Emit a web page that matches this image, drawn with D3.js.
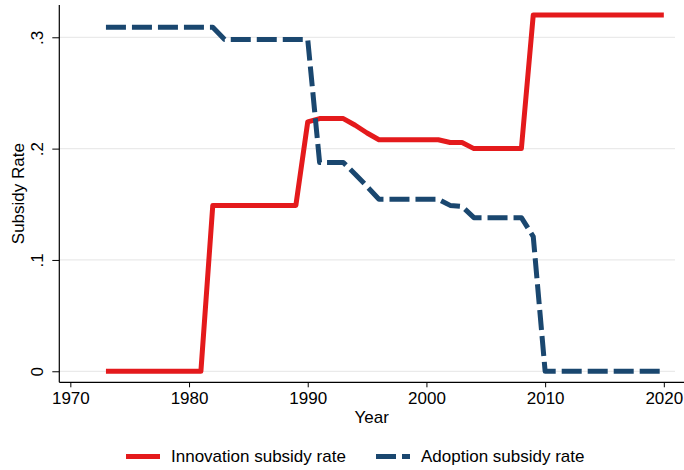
<!DOCTYPE html>
<html>
<head>
<meta charset="utf-8">
<script src="https://cdn.jsdelivr.net/npm/d3@7"></script>
<style>
  html, body { margin: 0; padding: 0; background: #fff; }
  svg { display: block; font-family: "Liberation Sans", Arial, sans-serif; }
</style>
</head>
<body>
<div id="chart"></div>
<script>
// Years 1973–2020
const years = d3.range(1973, 2021);

// Innovation subsidy rate
const innovation = [
  0, 0, 0, 0, 0, 0, 0, 0, 0,                         // 1973–1981
  0.149, 0.149, 0.149, 0.149, 0.149, 0.149, 0.149, 0.149, // 1982–1989
  0.224,                                             // 1990
  0.227, 0.227, 0.227,                               // 1991–1993
  0.221, 0.214,                                      // 1994–1995
  0.208, 0.208, 0.208, 0.208, 0.208, 0.208,          // 1996–2001
  0.2055, 0.2055,                                    // 2002–2003
  0.2, 0.2, 0.2, 0.2, 0.2,                           // 2004–2008
  0.32, 0.32, 0.32, 0.32, 0.32, 0.32, 0.32, 0.32, 0.32, 0.32, 0.32, 0.32 // 2009–2020
];

// Adoption subsidy rate
const adoption = [
  0.309, 0.309, 0.309, 0.309, 0.309, 0.309, 0.309, 0.309, 0.309, 0.309, // 1973–1982
  0.298, 0.298, 0.298, 0.298, 0.298, 0.298, 0.298, 0.298,               // 1983–1990
  0.1875, 0.1875, 0.1875,                            // 1991–1993
  0.177, 0.166,                                      // 1994–1995
  0.1545, 0.1545, 0.1545, 0.1545, 0.1545, 0.1545,    // 1996–2001
  0.149, 0.148,                                      // 2002–2003
  0.138, 0.138, 0.138, 0.138, 0.138,                 // 2004–2008
  0.121,                                             // 2009
  0, 0, 0, 0, 0, 0, 0, 0, 0, 0, 0                    // 2010–2020
];

const xTicks = [1970, 1980, 1990, 2000, 2010, 2020];
const yTicks = [0, 0.1, 0.2, 0.3];
const yTickLabels = ['0', '.1', '.2', '.3'];

const series = [
  { name: 'Innovation subsidy rate', values: innovation, color: '#e41a1c', dash: null },
  { name: 'Adoption subsidy rate',   values: adoption,   color: '#1a476f', dash: '20,6' },
];

const W = 684, H = 470;
const plot = { left: 59.3, right: 684, top: 5, bottom: 382.3 };

const svg = d3.select('#chart').append('svg').attr('width', W).attr('height', H);

const x = d3.scaleLinear().domain([1969.07, 2021.7]).range([plot.left, plot.right]);
const y = d3.scaleLinear().domain([-0.0099, 0.329]).range([plot.bottom, plot.top]);

// gridlines
svg.append('g')
  .selectAll('line')
  .data(yTicks)
  .join('line')
  .attr('x1', plot.left).attr('x2', 675)
  .attr('y1', d => y(d)).attr('y2', d => y(d))
  .attr('stroke', '#eaeaea').attr('stroke-width', 1.2);

// y axis
const yAxis = svg.append('g').attr('transform', `translate(${plot.left},0)`)
  .call(d3.axisLeft(y).tickValues(yTicks).tickSize(7).tickPadding(14)
    .tickFormat((d, i) => yTickLabels[i]));
yAxis.select('.domain').attr('d', `M0,${plot.top}V${plot.bottom}`).attr('stroke', '#000').attr('stroke-width', 1.2);
yAxis.selectAll('.tick line').attr('stroke', '#000').attr('stroke-width', 1);
yAxis.selectAll('.tick text')
  .attr('font-size', 17).attr('fill', '#000')
  .attr('text-anchor', 'middle')
  .attr('x', null)
  .attr('transform', 'translate(-22,0) rotate(-90)')
  .attr('dy', '0.35em');

// x axis
const xAxis = svg.append('g').attr('transform', `translate(0,${plot.bottom})`)
  .call(d3.axisBottom(x).tickValues(xTicks).tickSize(5).tickPadding(5).tickFormat(d3.format('d')));
xAxis.select('.domain').attr('d', `M${plot.left},0H${plot.right}`).attr('stroke', '#000').attr('stroke-width', 1.2);
xAxis.selectAll('.tick line').attr('stroke', '#000').attr('stroke-width', 1);
xAxis.selectAll('.tick text').attr('font-size', 17).attr('fill', '#000');

// axis titles
svg.append('text').attr('x', (plot.left + plot.right) / 2).attr('y', 423)
  .attr('text-anchor', 'middle').attr('font-size', 17).attr('fill', '#000')
  .text('Year');
svg.append('text')
  .attr('transform', `translate(18,${(plot.top + plot.bottom) / 2}) rotate(-90)`)
  .attr('text-anchor', 'middle').attr('dy', '0.35em')
  .attr('font-size', 17).attr('fill', '#000')
  .text('Subsidy Rate');

// lines
const line = d3.line().x((d, i) => x(years[i])).y(d => y(d));
svg.append('g').selectAll('path')
  .data(series)
  .join('path')
  .attr('d', d => line(d.values))
  .attr('fill', 'none')
  .attr('stroke', d => d.color)
  .attr('stroke-width', 5)
  .attr('stroke-linejoin', 'round')
  .attr('stroke-dasharray', d => d.dash);

// legend
const legY = 456.5;
const legX = [126, 376];
const leg = svg.append('g').selectAll('g')
  .data(series)
  .join('g')
  .attr('transform', (d, i) => `translate(${legX[i]},${legY})`);
leg.append('line')
  .attr('x1', 0).attr('x2', 34).attr('y1', 0).attr('y2', 0)
  .attr('stroke', d => d.color).attr('stroke-width', 5)
  .attr('stroke-dasharray', d => d.dash);
leg.append('text')
  .attr('x', 45).attr('dy', '0.35em')
  .attr('font-size', 17).attr('fill', '#000')
  .text(d => d.name);
</script>
</body>
</html>
